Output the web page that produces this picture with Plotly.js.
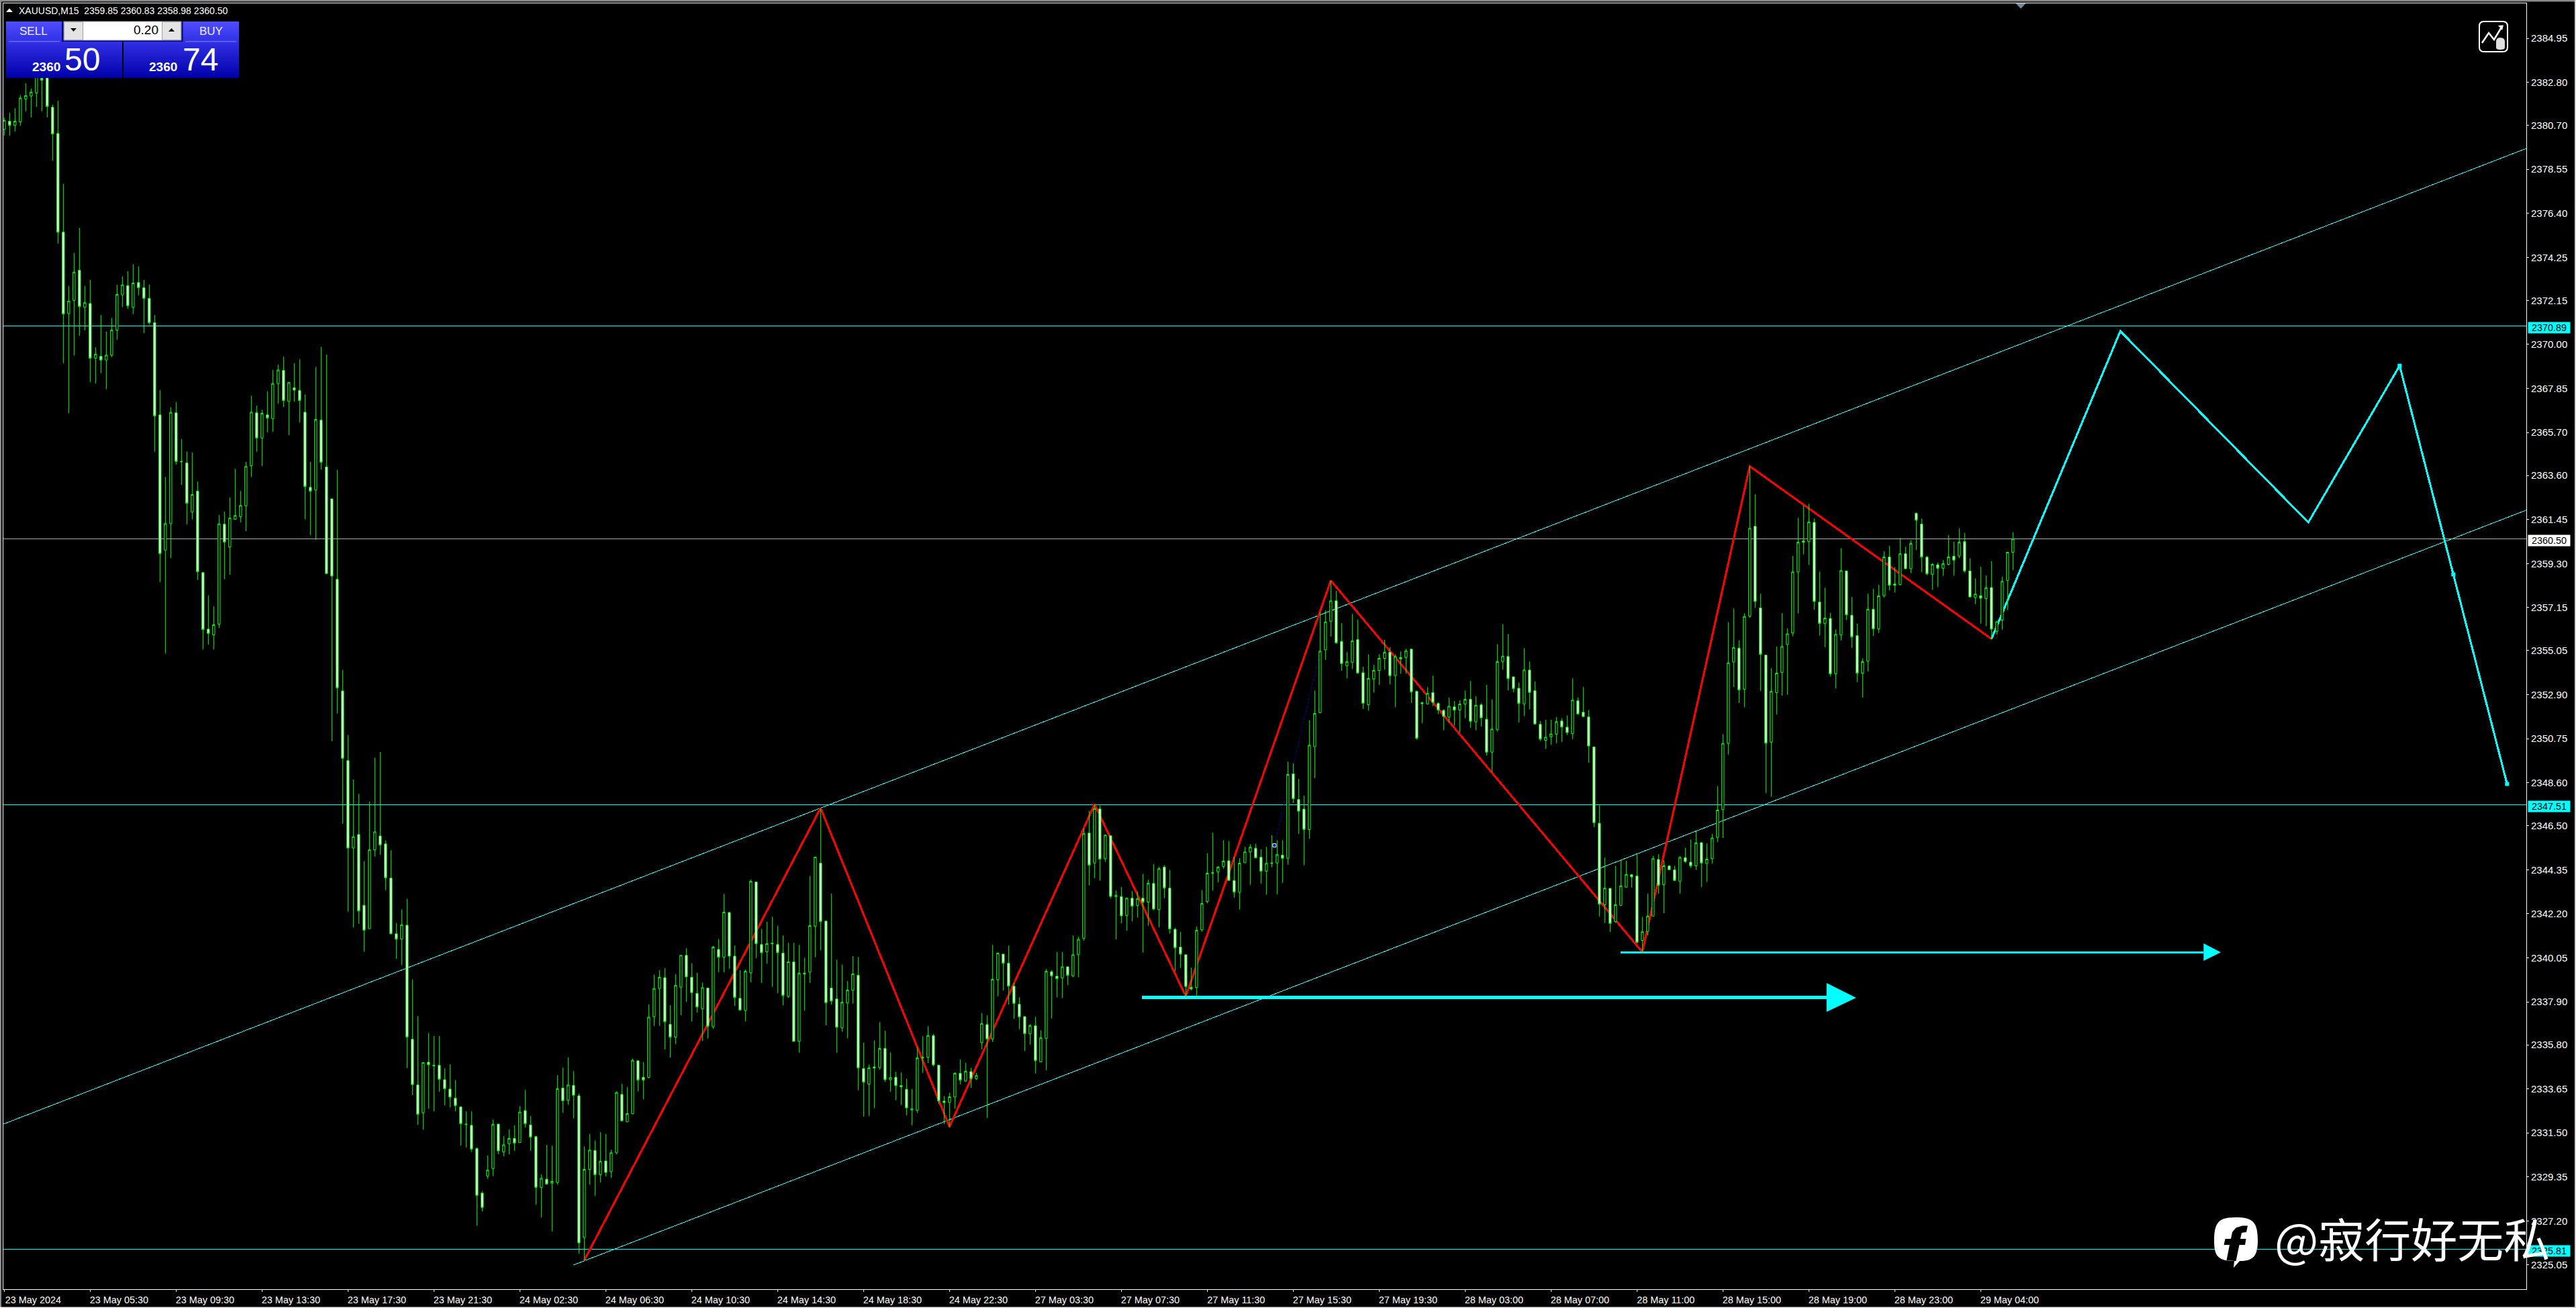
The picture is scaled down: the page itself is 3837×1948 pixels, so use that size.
<!DOCTYPE html>
<html><head><meta charset="utf-8">
<script src="https://cdn.plot.ly/plotly-3.0.1.min.js"></script>
<style>
html,body{margin:0;padding:0;background:#000;overflow:hidden}
#chart{width:3837px;height:1948px}
.scatterlayer .js-line{shape-rendering:crispEdges}
</style></head><body><div id="chart"></div>
<script>
const opens=[2380.51,2380.90,2380.70,2380.87,2381.98,2382.13,2382.28,2383.00,2383.30,2381.58,
2380.30,2375.48,2371.51,2372.15,2373.62,2371.81,2372.00,2369.33,2369.42,2369.24,
2369.48,2370.70,2372.42,2372.87,2371.81,2373.02,2372.77,2372.25,2371.06,2366.56,
2359.96,2361.25,2366.66,2364.29,2364.21,2361.82,2362.84,2358.86,2356.10,2355.82,
2356.34,2361.22,2360.11,2361.46,2361.59,2362.12,2364.08,2366.66,2365.43,2366.56,
2366.37,2368.09,2368.73,2367.22,2367.88,2367.75,2366.69,2363.02,2362.89,2366.30,
2364.02,2362.46,2358.53,2353.08,2349.68,2345.41,2346.07,2342.61,2341.47,2345.32,
2346.00,2345.61,2343.94,2341.22,2340.96,2341.64,2336.07,2333.84,2332.48,2334.95,
2334.80,2334.80,2334.10,2333.64,2333.20,2332.77,2331.93,2331.87,2330.73,2328.56,
2329.39,2329.76,2331.93,2330.57,2330.97,2331.23,2331.03,2332.59,2331.89,2331.32,
2328.84,2329.24,2329.04,2329.08,2333.69,2333.09,2333.82,2333.31,2326.39,2329.72,
2330.64,2329.46,2330.13,2329.61,2330.53,2333.38,2332.04,2332.44,2335.02,2334.21,
2334.21,2337.17,2338.55,2339.08,2336.80,2336.18,2338.62,2340.17,2339.10,2338.31,
2337.56,2338.57,2336.69,2340.46,2340.08,2342.26,2340.13,2338.07,2337.48,2339.32,
2343.75,2340.70,2340.34,2340.74,2340.70,2340.28,2338.16,2339.85,2335.97,2339.26,
2339.35,2341.58,2344.67,2341.84,2338.57,2338.04,2336.63,2337.84,2338.47,2339.20,
2334.64,2333.88,2334.72,2334.69,2335.62,2334.10,2334.22,2333.81,2333.63,2332.62,
2332.60,2335.16,2335.19,2336.25,2334.81,2333.05,2332.99,2333.25,2334.41,2334.03,
2334.49,2334.15,2335.91,2336.79,2336.09,2338.97,2340.23,2339.79,2338.66,2337.78,
2337.18,2336.34,2336.73,2334.97,2336.12,2339.37,2339.15,2339.07,2339.61,2339.17,
2340.20,2341.00,2346.14,2344.68,2347.32,2344.89,2346.01,2343.04,2343.04,2342.11,
2342.96,2342.61,2342.96,2342.77,2343.68,2342.40,2344.48,2343.45,2341.44,2340.57,
2340.20,2338.61,2338.60,2341.42,2342.80,2344.18,2344.24,2344.51,2344.79,2343.82,
2343.25,2344.69,2345.22,2345.40,2344.96,2344.28,2344.66,2344.68,2345.06,2344.91,
2349.03,2347.78,2347.31,2346.31,2350.36,2352.02,2355.09,2356.48,2357.48,2355.50,
2354.30,2354.48,2355.59,2353.97,2352.41,2353.66,2354.08,2354.67,2354.97,2353.83,
2354.71,2354.71,2355.12,2353.06,2352.50,2352.45,2353.00,2352.47,2352.13,2351.80,
2352.30,2352.15,2352.44,2352.67,2351.57,2352.40,2351.70,2350.09,2351.20,2354.52,
2354.76,2353.77,2353.21,2352.45,2354.10,2353.09,2351.45,2350.67,2350.84,2350.97,
2351.61,2351.31,2351.00,2352.60,2352.04,2351.81,2350.35,2346.62,2342.64,2343.44,
2341.82,2342.61,2343.50,2344.11,2344.04,2340.90,2341.33,2342.09,2344.85,2343.62,
2344.53,2344.34,2343.79,2344.94,2344.72,2344.54,2345.67,2344.66,2344.89,2345.93,
2347.29,2350.52,2354.49,2355.17,2353.16,2356.73,2361.12,2357.13,2354.83,2350.58,
2353.00,2353.98,2355.35,2355.91,2358.89,2360.40,2360.37,2361.31,2357.42,2356.37,
2356.62,2353.92,2355.81,2358.94,2356.78,2355.78,2353.95,2354.54,2357.07,2356.11,
2357.73,2359.62,2358.30,2358.27,2359.78,2359.05,2361.75,2361.23,2359.61,2358.77,
2359.24,2359.07,2359.26,2359.66,2359.67,2360.37,2358.94,2357.64,2357.73,2357.59,
2358.13,2355.99,2356.54,2358.48,2359.85];
const highs=[2381.09,2381.32,2381.53,2382.18,2382.75,2382.50,2383.90,2383.70,2383.70,2381.71,
2381.90,2377.84,2372.85,2374.47,2375.69,2372.85,2373.15,2369.86,2371.44,2370.63,
2371.29,2372.92,2373.32,2373.58,2373.92,2373.81,2373.15,2372.92,2371.44,2367.77,
2363.53,2366.94,2367.18,2365.38,2364.77,2364.72,2363.31,2358.90,2357.75,2357.21,
2361.67,2361.84,2362.53,2363.93,2362.84,2364.27,2367.50,2367.01,2366.81,2367.71,
2368.75,2369.01,2369.40,2368.14,2369.08,2369.27,2367.56,2364.27,2368.90,2369.88,
2369.50,2362.46,2363.87,2354.11,2350.93,2348.76,2348.06,2344.77,2347.67,2349.82,
2350.10,2345.78,2345.30,2341.75,2342.41,2342.93,2338.99,2337.21,2334.93,2336.38,
2336.23,2336.23,2334.65,2334.85,2334.08,2332.81,2332.55,2332.55,2330.79,2328.65,
2330.40,2332.15,2331.93,2331.34,2331.67,2331.87,2332.81,2333.60,2332.33,2331.36,
2329.48,2330.92,2330.88,2334.32,2334.69,2335.18,2334.52,2333.42,2330.84,2331.45,
2331.12,2331.54,2331.45,2330.68,2333.53,2333.90,2333.73,2335.13,2335.02,2334.96,
2337.78,2339.23,2339.45,2339.54,2337.74,2339.25,2340.17,2340.52,2339.78,2339.32,
2338.84,2338.57,2340.63,2340.96,2343.17,2342.30,2340.65,2339.45,2339.47,2343.87,
2343.75,2341.46,2341.81,2342.06,2341.61,2341.14,2340.78,2340.78,2340.68,2340.05,
2344.05,2344.97,2347.35,2341.84,2343.18,2339.96,2339.72,2338.92,2340.13,2340.08,
2335.90,2334.84,2336.02,2336.91,2336.49,2335.43,2334.49,2334.45,2334.15,2333.64,
2335.68,2336.22,2336.71,2336.34,2334.81,2333.30,2333.46,2334.46,2335.09,2334.93,
2334.68,2334.43,2337.35,2337.24,2340.68,2340.28,2340.23,2340.65,2338.82,2338.12,
2337.18,2336.81,2337.17,2336.50,2339.51,2339.45,2340.33,2340.33,2339.61,2341.14,
2341.08,2346.35,2347.23,2347.54,2347.48,2346.07,2346.01,2343.34,2343.51,2342.96,
2343.31,2343.28,2344.15,2343.87,2344.62,2344.49,2344.57,2344.34,2341.52,2341.31,
2340.20,2339.57,2341.58,2343.36,2345.16,2346.17,2344.53,2345.79,2345.75,2344.97,
2344.91,2345.47,2345.60,2345.62,2345.35,2345.47,2346.04,2345.79,2345.79,2349.63,
2349.54,2348.78,2347.97,2351.65,2353.10,2356.91,2357.02,2358.47,2357.97,2356.39,
2354.98,2356.84,2356.57,2354.26,2354.87,2354.36,2354.87,2355.58,2355.21,2354.87,
2355.01,2355.14,2355.12,2353.10,2352.56,2353.27,2353.83,2352.53,2352.19,2352.75,
2352.59,2352.62,2353.10,2353.57,2352.83,2352.48,2353.38,2352.66,2355.36,2356.34,
2355.86,2353.78,2353.49,2355.17,2354.51,2353.54,2351.61,2351.68,2351.68,2351.81,
2351.75,2351.88,2353.69,2352.77,2353.27,2352.15,2350.35,2347.49,2344.95,2343.44,
2344.54,2344.84,2344.79,2344.13,2345.08,2342.05,2343.18,2345.03,2345.11,2344.81,
2344.57,2344.54,2345.02,2345.42,2345.83,2346.24,2345.70,2345.63,2346.10,2348.43,
2350.97,2356.44,2357.11,2355.55,2356.87,2364.05,2362.68,2357.83,2354.83,2354.19,
2355.25,2356.88,2356.14,2359.67,2361.53,2362.14,2362.22,2361.50,2358.91,2358.12,
2356.89,2356.08,2360.05,2358.96,2357.67,2356.37,2354.67,2357.83,2358.07,2358.26,
2359.91,2360.17,2359.12,2360.55,2360.12,2360.44,2361.80,2361.50,2359.67,2359.32,
2359.35,2359.47,2360.69,2360.36,2361.02,2360.79,2359.56,2358.58,2359.15,2358.72,
2359.42,2356.50,2358.66,2359.88,2360.83];
const lows=[2380.19,2380.19,2380.40,2380.68,2381.38,2381.09,2381.60,2381.38,2381.09,2378.97,
2374.92,2369.08,2366.64,2369.46,2370.42,2370.68,2368.16,2368.09,2368.60,2367.82,
2369.37,2370.23,2371.83,2371.74,2371.48,2372.40,2370.55,2370.97,2364.76,2358.39,
2354.91,2359.56,2364.13,2363.14,2361.22,2361.46,2358.49,2355.10,2355.34,2355.10,
2356.15,2358.54,2358.75,2361.46,2361.31,2360.88,2363.53,2364.76,2364.06,2365.70,
2365.73,2367.11,2366.94,2365.57,2367.20,2366.19,2361.46,2360.69,2360.46,2363.89,
2358.81,2350.63,2351.98,2346.59,2342.30,2341.53,2341.71,2340.35,2341.47,2344.99,
2345.08,2343.35,2341.22,2340.00,2339.69,2334.67,2333.34,2331.89,2331.65,2332.68,
2332.55,2333.51,2332.85,2332.74,2332.55,2330.88,2330.79,2330.57,2326.96,2327.66,
2329.26,2329.39,2330.46,2330.36,2330.46,2330.62,2331.03,2331.76,2330.62,2327.99,
2327.37,2329.00,2326.69,2328.97,2332.48,2332.87,2332.20,2325.60,2325.27,2328.97,
2328.43,2329.08,2329.37,2329.30,2330.46,2332.09,2332.04,2332.44,2333.53,2333.14,
2334.17,2336.71,2336.73,2335.57,2335.18,2335.83,2337.24,2337.89,2336.93,2337.37,
2335.99,2336.10,2336.58,2339.34,2339.34,2339.51,2337.70,2337.48,2336.94,2338.85,
2340.03,2338.82,2339.76,2338.63,2338.32,2337.73,2338.09,2335.97,2335.42,2337.47,
2338.82,2340.08,2340.41,2336.75,2337.76,2335.42,2336.44,2336.12,2337.82,2333.58,
2332.30,2332.33,2332.70,2334.59,2334.00,2333.51,2333.09,2332.86,2332.36,2331.87,
2332.48,2334.43,2334.91,2334.74,2332.90,2331.92,2331.79,2332.67,2333.87,2333.99,
2333.70,2334.08,2335.58,2332.23,2335.94,2338.17,2338.45,2337.76,2337.06,2336.56,
2335.50,2335.81,2334.41,2334.97,2334.56,2337.09,2338.13,2338.09,2338.72,2339.10,
2339.10,2340.89,2343.59,2343.94,2343.82,2344.74,2342.94,2340.95,2341.73,2341.37,
2341.83,2342.02,2340.30,2341.61,2342.37,2341.54,2342.96,2341.23,2339.39,2339.55,
2338.13,2338.45,2338.13,2341.33,2342.71,2343.34,2343.74,2344.40,2343.82,2342.99,
2342.40,2344.69,2343.61,2344.91,2343.68,2343.13,2344.47,2343.15,2343.70,2344.60,
2347.60,2346.10,2344.57,2345.86,2348.82,2352.02,2354.60,2355.73,2355.39,2354.06,
2353.69,2354.15,2353.92,2352.19,2352.11,2353.00,2353.38,2354.12,2353.40,2352.29,
2353.92,2353.92,2352.49,2350.70,2351.51,2352.42,2352.34,2351.95,2351.16,2351.54,
2351.37,2351.03,2351.75,2351.27,2351.16,2351.34,2349.92,2349.11,2351.09,2354.12,
2353.10,2353.01,2351.54,2351.85,2352.18,2351.45,2350.63,2350.25,2350.45,2350.52,
2350.59,2350.93,2350.73,2351.91,2351.81,2349.57,2346.42,2342.07,2341.75,2341.31,
2341.75,2342.60,2343.48,2343.48,2340.76,2340.26,2341.14,2342.09,2343.18,2342.23,
2344.34,2343.79,2343.18,2344.68,2344.43,2344.34,2343.51,2343.75,2344.65,2345.70,
2345.90,2349.98,2353.27,2352.49,2352.29,2356.65,2357.13,2353.08,2348.10,2347.91,
2351.92,2352.85,2352.89,2355.75,2356.86,2359.75,2359.23,2357.05,2355.78,2355.22,
2353.79,2353.20,2355.54,2356.54,2355.19,2353.51,2352.76,2354.03,2355.76,2355.92,
2357.64,2357.99,2357.88,2358.24,2359.02,2358.83,2359.96,2358.88,2358.73,2358.02,
2358.15,2358.70,2359.21,2358.72,2359.56,2358.85,2357.64,2357.32,2356.37,2356.24,
2355.62,2355.83,2356.07,2357.03,2358.98];
const closes=[2380.94,2380.70,2380.90,2382.03,2382.15,2382.32,2383.30,2382.90,2381.62,2380.28,
2375.48,2371.49,2372.12,2373.53,2371.85,2372.04,2369.33,2369.52,2369.24,2369.48,
2370.70,2372.44,2372.91,2371.89,2373.00,2372.77,2372.25,2371.06,2366.51,2359.79,
2361.25,2366.68,2364.29,2364.27,2362.25,2362.67,2358.90,2356.08,2355.89,2356.31,
2361.24,2360.35,2361.52,2361.65,2362.14,2364.04,2366.69,2365.43,2366.64,2366.41,
2368.09,2368.75,2367.26,2368.14,2367.77,2367.26,2363.06,2362.84,2366.34,2364.25,
2358.81,2358.69,2353.23,2349.79,2345.41,2345.96,2342.34,2341.40,2345.32,2346.20,
2345.56,2343.96,2341.22,2340.96,2341.66,2336.18,2333.86,2332.41,2334.93,2334.83,
2334.78,2334.12,2333.66,2333.25,2332.83,2331.95,2331.91,2330.71,2328.45,2327.86,
2329.68,2331.91,2330.62,2330.92,2331.23,2331.01,2332.52,2331.95,2331.30,2328.84,
2329.28,2329.00,2329.13,2333.66,2333.07,2333.84,2333.34,2326.13,2329.72,2330.66,
2329.46,2330.11,2329.57,2330.53,2333.47,2332.09,2332.44,2335.04,2334.08,2334.08,
2337.15,2338.55,2339.10,2336.93,2336.18,2338.70,2340.17,2339.12,2338.35,2337.65,
2338.59,2336.71,2340.57,2340.08,2342.28,2340.13,2338.11,2337.50,2339.39,2343.79,
2340.74,2340.30,2340.74,2340.76,2340.30,2338.21,2339.85,2335.97,2339.30,2339.30,
2341.62,2344.97,2341.82,2337.86,2337.94,2336.66,2337.88,2338.47,2339.26,2334.68,
2333.98,2334.67,2334.67,2335.62,2334.10,2334.20,2333.81,2333.75,2332.72,2332.68,
2335.16,2335.19,2336.25,2334.82,2333.06,2332.98,2333.26,2334.41,2334.08,2334.51,
2334.15,2334.30,2336.84,2336.09,2339.00,2340.28,2339.79,2338.67,2337.82,2337.17,
2336.35,2336.74,2335.03,2336.14,2339.39,2339.17,2339.03,2339.61,2339.20,2340.20,
2340.95,2346.12,2344.58,2347.33,2344.87,2346.04,2343.05,2343.09,2342.10,2342.96,
2342.57,2342.94,2342.77,2343.69,2342.43,2344.40,2343.46,2341.46,2340.54,2340.23,
2338.65,2338.53,2341.39,2342.70,2344.18,2344.20,2344.48,2344.77,2343.83,2343.26,
2344.67,2345.22,2345.45,2344.93,2344.28,2344.66,2344.68,2345.09,2344.91,2349.00,
2347.82,2347.21,2346.32,2350.43,2351.98,2355.02,2356.45,2357.48,2355.43,2354.42,
2354.51,2355.52,2353.96,2352.48,2353.69,2354.08,2354.67,2354.97,2353.83,2354.76,
2354.65,2355.04,2353.04,2350.77,2352.46,2352.96,2352.52,2352.15,2351.84,2352.33,
2352.15,2352.44,2352.67,2351.60,2352.38,2351.77,2350.09,2351.22,2354.51,2354.78,
2353.68,2353.20,2352.47,2354.10,2353.01,2351.47,2350.73,2350.82,2350.98,2351.58,
2351.32,2351.05,2352.63,2351.96,2351.83,2350.39,2346.65,2342.67,2343.45,2341.73,
2342.64,2343.56,2344.12,2344.00,2340.80,2341.32,2342.09,2344.89,2343.59,2344.54,
2344.35,2343.83,2344.95,2344.75,2344.54,2345.66,2344.68,2344.87,2345.90,2347.26,
2350.52,2354.45,2355.20,2353.13,2356.71,2361.02,2357.45,2354.87,2350.53,2353.06,
2353.95,2355.25,2355.87,2358.89,2360.34,2360.34,2361.33,2357.45,2356.38,2356.64,
2353.92,2355.84,2358.96,2356.80,2355.72,2353.95,2354.51,2357.07,2356.11,2357.72,
2359.62,2358.24,2358.24,2359.78,2359.05,2360.28,2361.42,2359.62,2358.80,2359.26,
2359.07,2359.29,2359.62,2359.47,2360.34,2358.94,2357.67,2357.81,2357.61,2358.12,
2356.10,2356.46,2358.43,2359.85,2360.50];

const zigzagBars=[108,152,176,203,220,247,305,325,370];
const zigzagPrices=[2325.28,2347.36,2331.80,2347.54,2338.17,2358.47,2340.33,2364.05,2355.62];
const forecastBars=[370,394,429,446,456,466];
const forecastPrices=[2355.62,2370.65,2361.31,2368.96,2358.77,2348.54];
const forecastNodeBars=[446,456,466];
const forecastNodePrices=[2368.96,2358.77,2348.54];
const upperChannelBars=[-0.16,469.59];
const upperChannelPrices=[2331.93,2379.57];
const lowerChannelBars=[106,469.59];
const lowerChannelPrices=[2325.05,2361.91];
const levelPrices=[2370.89,2347.51,2325.81];
const levelLabels=['2370.89','2347.51','2325.81'];
const bidPrice=2360.50, bidLabel='2360.50';
const bigArrowBars=[211.8,339.3], bigArrowPrice=2338.10;
const bigHeadBars=[339.3,344.8,339.3,339.3], bigHeadPrices=[2338.82,2338.10,2337.41,2338.82];
const thinArrowBars=[301,409.5], thinArrowPrice=2340.32;
const thinHeadBars=[409.5,412.7,409.5,409.5], thinHeadPrices=[2340.75,2340.32,2339.90,2340.75];
const dottedBars=[236.5,245], dottedPrices=[2345.54,2355.0];
const markerBars=[236.5], markerPrices=[2345.54];
const priceTicks=[2384.95,2382.80,2380.70,2378.55,2376.40,2374.25,2372.15,2370.00,2367.85,2365.70,2363.60,2361.45,2359.30,2357.15,2355.05,2352.90,2350.75,2348.60,2346.50,2344.35,2342.20,2340.05,2337.90,2335.80,2333.65,2331.50,2329.35,2327.20,2325.05];
const timeTicks=[0,16,32,48,64,80,96,112,128,144,160,176,192,208,224,240,256,272,288,304,320,336,352,368];
const timeLabels=['23 May 2024','23 May 05:30','23 May 09:30','23 May 13:30','23 May 17:30','23 May 21:30','24 May 02:30','24 May 06:30','24 May 10:30','24 May 14:30','24 May 18:30','24 May 22:30','27 May 03:30','27 May 07:30','27 May 11:30','27 May 15:30','27 May 19:30','28 May 03:00','28 May 07:00','28 May 11:00','28 May 15:00','28 May 19:00','28 May 23:00','29 May 04:00'];
const headerText='XAUUSD,M15  2359.85 2360.83 2358.98 2360.50';
const watermark='@寂行好无私';

const barIdx=opens.map((_,i)=>i);
const L=5,R=3763,T=5,B=1920,W=3837,H=1948;
const fx=x=>(x-L)/(R-L), fy=y=>(B-y)/(B-T);
const pp=s=>s.replace(/(-?[\d.]+),(-?[\d.]+)/g,(m,x,y)=>fx(+x)+','+fy(+y));
const yRange=[2384.95-(B-57)/30.5,2384.95+(57-T)/30.5];
const xRange=[(L-6.3)/8,(R-6.3)/8];
const CY='#00ffff';
const line=(x,y,w,c,extra)=>Object.assign({type:'scatter',mode:'lines',x,y,line:{color:c,width:w},hoverinfo:'skip',showlegend:false,xaxis:'x',yaxis:'y'},extra||{});
const tri=(x,y)=>({type:'scatter',mode:'lines',x,y,fill:'toself',fillcolor:CY,line:{color:CY,width:0},hoverinfo:'skip',showlegend:false});

const traces=[
 ...levelPrices.map(p=>line(xRange,[p,p],1,CY)),
 line(xRange,[bidPrice,bidPrice],1,'#a9a9a9'),
 line(upperChannelBars,upperChannelPrices,1,CY),
 line(lowerChannelBars,lowerChannelPrices,1,CY),
 line(dottedBars,dottedPrices,1,'#0000c8',{line:{color:'#0000c8',width:1,dash:'dot'}}),
 line(zigzagBars,zigzagPrices,3,'#ff0000'),
 line(forecastBars,forecastPrices,3,CY),
 {type:'scatter',mode:'markers',x:forecastNodeBars,y:forecastNodePrices,marker:{symbol:'square',size:6,color:CY},hoverinfo:'skip',showlegend:false},
 line(bigArrowBars,[bigArrowPrice,bigArrowPrice],5,CY),
 tri(bigHeadBars,bigHeadPrices),
 line(thinArrowBars,[thinArrowPrice,thinArrowPrice],3,CY),
 tri(thinHeadBars,thinHeadPrices),
 {type:'scatter',mode:'markers',x:markerBars,y:markerPrices,marker:{symbol:'square',size:5,color:'#0000ff',line:{color:'#ffffff',width:1}},hoverinfo:'skip',showlegend:false},
 {type:'candlestick',x:barIdx,open:opens,high:highs,low:lows,close:closes,xaxis:'x',yaxis:'y2',whiskerwidth:0,
  increasing:{line:{color:'#00ff00',width:1},fillcolor:'#000000'},
  decreasing:{line:{color:'#00ff00',width:1},fillcolor:'#ffffff'},hoverinfo:'skip',showlegend:false}
];

const shapes=[];
const rect=(x0,y0,x1,y1,c,lc,lw)=>shapes.push({type:'rect',xref:'paper',yref:'paper',x0:fx(x0),x1:fx(x1),y0:fy(y0),y1:fy(y1),fillcolor:c,line:{color:lc||c,width:lw||0},layer:'above'});
const path=(d,c,lc,lw)=>shapes.push({type:'path',xref:'paper',yref:'paper',path:pp(d),fillcolor:c,line:{color:lc||'rgba(0,0,0,0)',width:lw||0},layer:'above'});
const mix=(a,b,t)=>'rgb('+a.map((v,i)=>Math.round(v+(b[i]-v)*t)).join(',')+')';
const grad=(x0,y0,x1,y1,a,b)=>{const n=Math.round(y1-y0);for(let i=0;i<n;i++)rect(x0,y0+i,x1,y0+i+1.2,mix(a,b,i/n));};
// window frame
rect(0,0,W,2.5,'#8a8a8a');rect(0,0,2,H,'#8a8a8a');rect(0,H-1.5,W,H,'#f0f0f0');rect(W-2,0,W,H,'#d0d0d0');
// chart-shift marker
path('M3002.5,5 L3017.5,5 L3010,13 Z','#778899');
// header triangle
path('M9,18 L19,18 L14,12.5 Z','#ffffff');
// trade panel
const gradTop=[78,78,255],gradMid=[48,48,228],gradBot=[0,0,168];
rect(92,32,272.5,62,'#00007a');
grad(9,32,92,62,gradTop,gradMid);grad(272.5,32,356,62,gradTop,gradMid);
grad(9,62,182,116,gradMid,gradBot);grad(184,62,356,116,gradMid,gradBot);
rect(13,61.5,89,62.3,'#a0a0ff');rect(276,61.5,352,62.3,'#a0a0ff');
rect(95,32,270,60,'#ffffff','#a0a0a0',1);
rect(95.5,32.5,123.5,59.5,'#e4e4e4','#a0a0a0',1);rect(241.5,32.5,269.5,59.5,'#e4e4e4','#a0a0a0',1);
path('M105,42 L114,42 L109.5,47 Z','#000000');path('M251,47 L260,47 L255.5,42 Z','#000000');
// chart tool icon
path('M3700,32 L3728,32 Q3735,32 3735,39 L3735,70 Q3735,77 3728,77 L3700,77 Q3693,77 3693,70 L3693,39 Q3693,32 3700,32 Z','rgba(0,0,0,0)','#ffffff',2);
path('M3697,64 L3707,49 L3715,59 L3727,39','rgba(0,0,0,0)','#ffffff',2.5);
path('M3721,38 L3729,37.5 L3727,45 Z','#ffffff');
path('M3718,62 Q3718,56 3724,56 Q3731,56 3731,62 L3731,71 Q3731,74 3724,74 Q3718,74 3718,71 Z','#e0e0e0');
// watermark icon
path('M3298,1848 C3298,1820 3305,1813 3330,1813 C3356,1813 3363,1820 3363,1848 C3363,1872 3355,1878 3336,1878 L3327,1888 L3328,1878 C3305,1878 3298,1872 3298,1848 Z','#ffffff');
path('M3348,1825.5 L3346,1835 L3339,1836 L3337,1845 L3345.5,1845 L3344,1854 L3335.5,1854 L3330.5,1878 L3316.5,1877 L3321,1854 L3312.5,1854 L3314.5,1845 L3323,1845 L3325,1835 L3330.5,1828.5 L3340,1825.5 Z','#000000');

const ann=[];
const txt=(t,x,y,size,o)=>ann.push(Object.assign({text:t,xref:'paper',yref:'paper',x:fx(x),y:fy(y),xanchor:'left',yanchor:'middle',showarrow:false,
  font:{family:'"Liberation Sans",Arial,sans-serif',size,color:'#ffffff'},borderpad:0},o||{}));
const tag=(t,p,bg)=>ann.push({text:t,xref:'paper',yref:'y',x:fx(3765),y:p,xanchor:'left',yanchor:'middle',yshift:-2,showarrow:false,width:62,height:16,bgcolor:bg,align:'center',borderpad:0,
  font:{family:'"Liberation Sans",Arial,sans-serif',size:14.4,color:'#000000'}});
levelPrices.forEach((p,i)=>tag(levelLabels[i],p,CY));
tag(bidLabel,bidPrice,'#ffffff');
txt(headerText,27,16,14);
txt('SELL',50,46,17,{xanchor:'center',font:{family:'"Liberation Sans"',size:17,color:'#f0f0ff'}});
txt('BUY',314,46,17,{xanchor:'center',font:{family:'"Liberation Sans"',size:17,color:'#f0f0ff'}});
txt('0.20',237,45,19,{xanchor:'right',font:{family:'"Liberation Sans"',size:19,color:'#000000'}});
txt('2360',47,99,19,{font:{family:'"Liberation Sans"',size:19,color:'#ffffff',weight:700}});
txt('50',95,89,48);
txt('2360',221,99,19,{font:{family:'"Liberation Sans"',size:19,color:'#ffffff',weight:700}});
txt('74',271,89,48);
txt(watermark,3387,1843,69,{font:{family:'"Noto Sans CJK SC"',size:69,color:'#ffffff'}});

const axFont={family:'"Liberation Sans",Arial,sans-serif',color:'#ffffff'};
Plotly.newPlot('chart',traces,{
 width:W,height:H,paper_bgcolor:'#000000',plot_bgcolor:'#000000',showlegend:false,boxgap:0.4,boxmode:'overlay',
 margin:{l:L,r:W-R,t:T,b:H-B,pad:0,autoexpand:false},
 xaxis:{range:xRange,autorange:false,rangeslider:{visible:false},showgrid:false,zeroline:false,showline:true,mirror:true,linecolor:'#ffffff',linewidth:1,
  tickmode:'array',tickvals:timeTicks,ticktext:timeLabels,ticks:'outside',ticklen:3,tickcolor:'#ffffff',tickwidth:1,ticklabelshift:43,
  tickangle:0,tickfont:Object.assign({size:14.4},axFont),automargin:false},
 yaxis:{range:yRange,autorange:false,side:'right',showgrid:false,zeroline:false,showline:true,mirror:true,linecolor:'#ffffff',linewidth:1,
  tickmode:'array',tickvals:priceTicks,ticktext:priceTicks.map(v=>v.toFixed(2)),ticks:'outside',ticklen:3,tickcolor:'#ffffff',tickwidth:1,
  tickfont:Object.assign({size:15},axFont),automargin:false},
 yaxis2:{range:yRange,autorange:false,overlaying:'y',side:'right',visible:false,showgrid:false,zeroline:false},
 shapes,annotations:ann
},{displayModeBar:false,staticPlot:true});
</script></body></html>
